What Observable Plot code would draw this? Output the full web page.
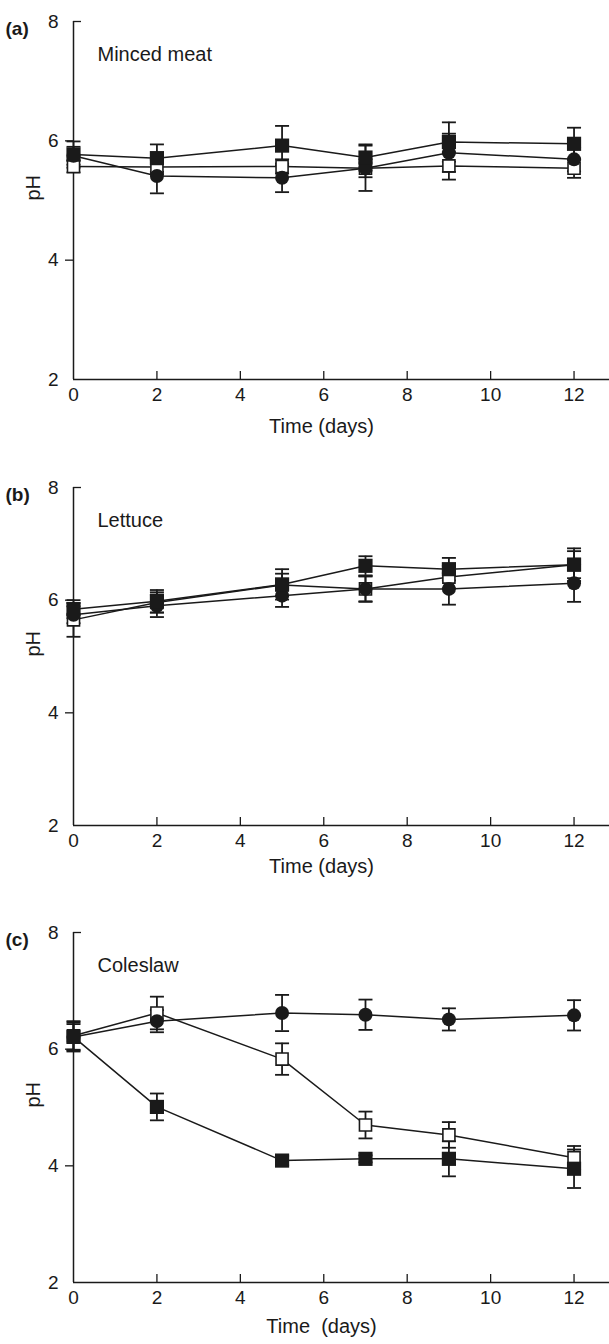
<!DOCTYPE html>
<html><head><meta charset="utf-8">
<script src="https://cdn.jsdelivr.net/npm/d3@7"></script>
<script src="https://cdn.jsdelivr.net/npm/@observablehq/plot@0.6"></script>
<style>
body{margin:0;background:#fff;}
#chart svg{display:block;}
</style></head><body><div id="chart"></div>
<script>
// ---- data ----
const days = [0, 2, 5, 7, 9, 12];
const xTicks = [0, 2, 4, 6, 8, 10, 12];
const yTicks = [2, 4, 6, 8];
const panelLetters = ["(a)", "(b)", "(c)"];
const panelNames = ["Minced meat", "Lettuce", "Coleslaw"];
const xTitles = ["Time (days)", "Time (days)", "Time\u00a0 (days)"];
const seriesNames = ["filled circle", "open square", "filled square"];

// Minced meat
const meatCircle    = [5.75, 5.41, 5.38, 5.54, 5.80, 5.69];
const meatCircleErr = [0.15, 0.29, 0.24, 0.38, 0.32, 0.20];
const meatOpen      = [5.57, 5.56, 5.57, 5.54, 5.58, 5.54];
const meatOpenErr   = [0.10, 0.12, 0.12, 0.15, 0.23, 0.16];
const meatFilled    = [5.77, 5.71, 5.92, 5.72, 5.98, 5.95];
const meatFilledErr = [0.22, 0.23, 0.33, 0.22, 0.33, 0.27];
// Lettuce
const letCircle     = [5.74, 5.90, 6.08, 6.20, 6.20, 6.30];
const letCircleErr  = [0.15, 0.20, 0.20, 0.22, 0.28, 0.33];
const letOpen       = [5.65, 5.96, 6.27, 6.20, 6.41, 6.63];
const letOpenErr    = [0.30, 0.18, 0.20, 0.23, 0.20, 0.24];
const letFilled     = [5.84, 5.98, 6.28, 6.61, 6.55, 6.63];
const letFilledErr  = [0.16, 0.20, 0.27, 0.17, 0.20, 0.29];
// Coleslaw
const colCircle     = [6.21, 6.48, 6.62, 6.59, 6.51, 6.58];
const colCircleErr  = [0.25, 0.19, 0.31, 0.26, 0.19, 0.26];
const colOpen       = [6.23, 6.62, 5.83, 4.70, 4.53, 4.14];
const colOpenErr    = [0.25, 0.28, 0.27, 0.23, 0.22, 0.20];
const colFilled     = [6.21, 5.01, 4.09, 4.12, 4.12, 3.95];
const colFilledErr  = [0.22, 0.23, 0.08, 0.06, 0.30, 0.33];

function rowsOf(vals, errs) {
  return seriesNames.flatMap((s, k) => days.map((d, i) => ({day: d, pH: vals[k][i], err: errs[k][i], series: s})));
}
const panels = [
  rowsOf([meatCircle, meatOpen, meatFilled], [meatCircleErr, meatOpenErr, meatFilledErr]),
  rowsOf([letCircle, letOpen, letFilled], [letCircleErr, letOpenErr, letFilledErr]),
  rowsOf([colCircle, colOpen, colFilled], [colCircleErr, colOpenErr, colFilledErr])
];
const layout = [
  {height: 467, marginTop: 21, marginBottom: 88, titleDy: 53},
  {height: 445, marginTop: 20, marginBottom: 87, titleDy: 47},
  {height: 432, marginTop: 20, marginBottom: 62, titleDy: 50}
];

const ink = "#1a1a1a";
const cap = {draw(ctx, size) { const w = Math.sqrt(size / Math.PI); ctx.moveTo(-w, 0); ctx.lineTo(w, 0); }};
const fmt = d => String(d);

function makePanel(p) {
  const rows = panels[p];
  const L = layout[p];
  const bySeries = s => rows.filter(d => d.series === s);
  return Plot.plot({
    width: 609, height: L.height,
    marginLeft: 73, marginRight: 0, marginTop: L.marginTop, marginBottom: L.marginBottom,
    style: {fontFamily: "'Liberation Sans', Arial, sans-serif", fontSize: "19px", color: ink, background: "#fff", overflow: "visible"},
    x: {domain: [0, 12.85], axis: null},
    y: {domain: [2, 8], axis: null},
    marks: [
      Plot.ruleX([0], {stroke: ink, strokeWidth: 1.5}),
      Plot.ruleY([2], {stroke: ink, strokeWidth: 1.5}),
      Plot.axisX(xTicks, {tickSize: 0, tickPadding: 8, tickFormat: fmt, label: null, fontSize: 19}),
      Plot.axisX(xTicks.filter(d => d > 0), {tickSize: -8, tickFormat: d => "", label: null, strokeWidth: 1.3}),
      Plot.axisY(yTicks, {tickSize: 0, tickPadding: 15, tickFormat: fmt, label: null, fontSize: 19}),
      Plot.axisY([4, 6], {tickSize: 8, tickFormat: d => "", label: null, strokeWidth: 1.3}),
      Plot.axisY([8], {tickSize: -8, tickFormat: d => "", label: null, strokeWidth: 1.3}),
      Plot.text([xTitles[p]], {frameAnchor: "bottom", dx: -20, dy: L.titleDy, fontSize: 20}),
      Plot.text(["pH"], {frameAnchor: "left", dx: -40, rotate: -90, fontSize: 20}),
      Plot.text([panelLetters[p]], {frameAnchor: "top-left", dx: -68, textAnchor: "start", fontWeight: "bold", fontSize: 19}),
      Plot.text([panelNames[p]], {frameAnchor: "top-left", dx: 24, dy: 25, textAnchor: "start", fontSize: 20}),
      Plot.line(rows, {x: "day", y: "pH", z: "series", stroke: ink, strokeWidth: 1.5}),
      Plot.ruleX(rows, {x: "day", y1: d => d.pH - d.err, y2: d => d.pH + d.err, stroke: ink, strokeWidth: 1.8}),
      Plot.dot(rows, {x: "day", y: d => d.pH + d.err, symbol: cap, r: 7, stroke: ink, strokeWidth: 1.8}),
      Plot.dot(rows, {x: "day", y: d => d.pH - d.err, symbol: cap, r: 7, stroke: ink, strokeWidth: 1.8}),
      Plot.dot(bySeries("open square"), {x: "day", y: "pH", symbol: "square", r: 6.8, fill: "#fff", stroke: ink, strokeWidth: 1.6}),
      Plot.dot(bySeries("filled circle"), {x: "day", y: "pH", symbol: "circle", r: 7, fill: ink, stroke: "none"}),
      Plot.dot(bySeries("filled square"), {x: "day", y: "pH", symbol: "square", r: 8, fill: ink, stroke: "none"})
    ]
  });
}
const root = document.getElementById("chart");
[0, 1, 2].forEach(p => root.appendChild(makePanel(p)));
</script></body></html>
